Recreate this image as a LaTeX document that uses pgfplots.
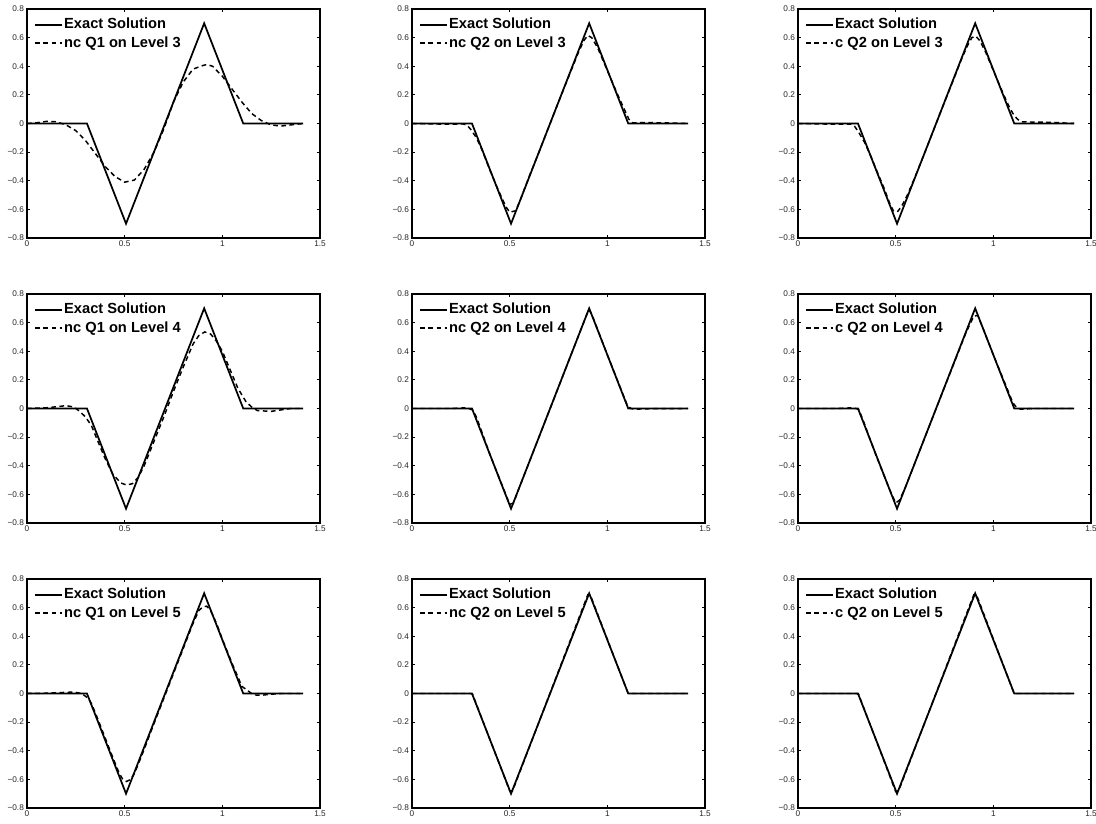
\documentclass[border=0pt]{standalone}
\usepackage{pgfplots}
\pgfplotsset{compat=1.18}
\usepackage{fontspec}
\setmainfont{Liberation Sans}
\setsansfont{Liberation Sans}
\pgfplotsset{
  panel/.style={
    anchor=south west, scale only axis,
    width=219.75pt, height=171.75pt,
    xmin=0, xmax=1.5, ymin=-0.8, ymax=0.8,
    xtick={0,0.5,1,1.5}, xticklabels={0,0.5,1,1.5},
    ytick={-0.8,-0.6,-0.4,-0.2,0,0.2,0.4,0.6,0.8},
    yticklabels={−0.8,−0.6,−0.4,−0.2,0,0.2,0.4,0.6,0.8},
    tick align=inside, xtick pos=both, ytick pos=both,
    xticklabel pos=lower, yticklabel pos=left,
    major tick length=2.5pt,
    every tick/.style={black, line width=0.6pt},
    axis line style={line width=0.8pt},
    tick label style={font=\fontsize{6.2}{7}\selectfont, text=black!85},
    xticklabel style={yshift=1.2pt},
    yticklabel style={xshift=1.2pt},
    legend cell align=left,
    legend image code/.code={\draw[##1] (0pt,0pt) -- (20pt,0pt);},
    legend style={draw=none, fill=none, at={(0.02,0.972)}, anchor=north west,
      font=\bfseries\fontsize{11}{12.5}\selectfont, inner sep=1pt,
      nodes={inner sep=1pt}, row sep=2.3pt},
  },
  exact/.style={black, line width=1.3pt},
  approx/.style={black, line width=1.1pt, dash pattern=on 3.5pt off 2.6pt},
}
\newcommand{\panel}[3]{%
\begin{axis}[panel, at={(#1)}]
\addplot[exact] coordinates {(0,0) (0.307,0) (0.507,-0.7) (0.907,0.7) (1.107,0) (1.414,0)};
\addplot[approx] coordinates {#2};
\legend{Exact Solution,#3}
\end{axis}}
\begin{document}
\begin{tikzpicture}
\path[use as bounding box] (0,0) rectangle (822pt,618pt);
% Row 1
\panel{20.25pt,439.5pt}{(0,0)(0.05,0.005)(0.1,0.015)(0.15,0.012)(0.2,-0.01)(0.25,-0.05)(0.3,-0.12)(0.35,-0.21)(0.4,-0.30)(0.45,-0.37)(0.5,-0.41)(0.55,-0.395)(0.6,-0.32)(0.65,-0.2)(0.7,-0.04)(0.75,0.15)(0.8,0.29)(0.85,0.38)(0.9,0.405)(0.92,0.412)(0.95,0.40)(1.0,0.33)(1.05,0.24)(1.1,0.15)(1.15,0.07)(1.2,0.02)(1.25,-0.01)(1.3,-0.018)(1.35,-0.01)(1.414,0)}{nc Q1 on Level 3}
\panel{309pt,439.5pt}{(0,0)(0.1,-0.003)(0.2,-0.005)(0.26,-0.003)(0.28,-0.01)(0.3,-0.04)(0.33,-0.1)(0.36,-0.19)(0.4,-0.33)(0.44,-0.46)(0.48,-0.58)(0.5,-0.62)(0.53,-0.61)(0.55,-0.55)(0.6,-0.37)(0.65,-0.2)(0.7,-0.025)(0.75,0.15)(0.8,0.32)(0.85,0.49)(0.88,0.58)(0.9,0.615)(0.92,0.6)(0.95,0.53)(1.0,0.37)(1.05,0.21)(1.08,0.12)(1.11,0.03)(1.13,0.005)(1.2,0.006)(1.3,0.004)(1.414,0)}{nc Q2 on Level 3}
\panel{598.5pt,439.5pt}{(0,0)(0.1,-0.003)(0.2,-0.005)(0.27,-0.004)(0.29,-0.02)(0.31,-0.06)(0.34,-0.13)(0.37,-0.22)(0.4,-0.32)(0.44,-0.45)(0.47,-0.56)(0.49,-0.615)(0.51,-0.615)(0.53,-0.58)(0.56,-0.5)(0.6,-0.37)(0.65,-0.2)(0.7,-0.025)(0.75,0.15)(0.8,0.32)(0.84,0.46)(0.87,0.55)(0.89,0.6)(0.91,0.61)(0.93,0.58)(0.96,0.5)(1.0,0.37)(1.05,0.21)(1.08,0.12)(1.1,0.07)(1.12,0.035)(1.14,0.012)(1.2,0.01)(1.3,0.008)(1.414,0)}{c Q2 on Level 3}
% Row 2
\panel{20.25pt,225.75pt}{(0,0)(0.1,0.005)(0.15,0.012)(0.2,0.02)(0.24,0.01)(0.27,-0.02)(0.3,-0.06)(0.33,-0.12)(0.36,-0.22)(0.4,-0.35)(0.44,-0.46)(0.48,-0.52)(0.51,-0.535)(0.54,-0.525)(0.57,-0.48)(0.6,-0.4)(0.65,-0.23)(0.7,-0.06)(0.75,0.12)(0.8,0.29)(0.85,0.45)(0.88,0.51)(0.91,0.535)(0.94,0.52)(0.97,0.47)(1.0,0.40)(1.04,0.27)(1.08,0.14)(1.12,0.05)(1.15,0.01)(1.18,-0.015)(1.25,-0.02)(1.3,-0.01)(1.35,0)(1.414,0)}{nc Q1 on Level 4}
\panel{309pt,225.75pt}{(0,0)(0.2,0.0)(0.28,0.005)(0.31,-0.01)(0.33,-0.06)(0.4,-0.325)(0.48,-0.6)(0.5,-0.67)(0.52,-0.66)(0.55,-0.55)(0.7,-0.025)(0.85,0.5)(0.89,0.64)(0.905,0.69)(0.92,0.66)(1.0,0.375)(1.1,0.03)(1.12,0.0)(1.14,-0.005)(1.2,-0.002)(1.414,0)}{nc Q2 on Level 4}
\panel{598.5pt,225.75pt}{(0,0)(0.2,0)(0.28,0.005)(0.31,-0.005)(0.33,-0.07)(0.4,-0.33)(0.47,-0.57)(0.5,-0.66)(0.52,-0.64)(0.55,-0.55)(0.7,-0.025)(0.86,0.53)(0.9,0.645)(0.92,0.65)(0.95,0.55)(1.0,0.375)(1.1,0.04)(1.12,0.005)(1.14,-0.005)(1.2,0)(1.414,0)}{c Q2 on Level 4}
% Row 3
\panel{20.25pt,12pt}{(0,0)(0.1,0.002)(0.2,0.008)(0.24,0.01)(0.28,0.0)(0.31,-0.03)(0.33,-0.07)(0.36,-0.17)(0.4,-0.31)(0.44,-0.45)(0.47,-0.55)(0.49,-0.6)(0.51,-0.615)(0.53,-0.6)(0.55,-0.56)(0.6,-0.39)(0.65,-0.21)(0.7,-0.035)(0.75,0.14)(0.8,0.315)(0.85,0.49)(0.88,0.58)(0.9,0.605)(0.92,0.61)(0.94,0.58)(0.97,0.49)(1.0,0.38)(1.05,0.21)(1.1,0.05)(1.13,0.02)(1.16,-0.01)(1.2,-0.012)(1.25,-0.005)(1.3,0)(1.414,0)}{nc Q1 on Level 5}
\panel{309pt,12pt}{(0,0)(0.3,0)(0.31,-0.005)(0.5,-0.68)(0.515,-0.68)(0.9,0.69)(0.915,0.68)(1.105,0.005)(1.12,0)(1.414,0)}{nc Q2 on Level 5}
\panel{598.5pt,12pt}{(0,0)(0.3,0)(0.31,-0.005)(0.5,-0.685)(0.515,-0.68)(0.9,0.69)(0.915,0.685)(1.105,0.004)(1.12,0)(1.414,0)}{c Q2 on Level 5}
\end{tikzpicture}
\end{document}
